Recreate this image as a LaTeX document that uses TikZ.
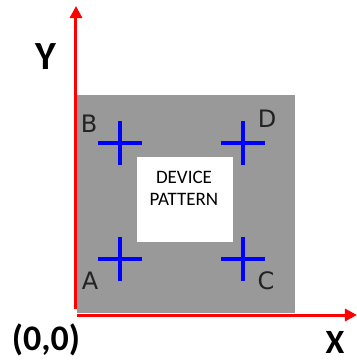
\documentclass[tikz,border=0pt]{standalone}
\usepackage{fontspec}
\setmainfont{Carlito}
\newfontfamily\lblfont{DejaVu Sans}
\usetikzlibrary{arrows.meta}
\definecolor{padgray}{HTML}{999999}
\definecolor{axred}{HTML}{FF0000}
\definecolor{crossblue}{HTML}{0000FF}
\definecolor{lbl}{HTML}{222222}
\tikzset{
  axis/.style={draw=axred, line width=3pt, -{Triangle[length=12pt,width=12pt]}},
  crossline/.style={draw=crossblue, line width=4pt},
  cornerlbl/.style={text=lbl, font=\lblfont\fontsize{24}{24}\selectfont, inner sep=0pt},
  axlbl/.style={font=\bfseries\fontsize{36}{36}\selectfont, inner sep=0pt},
}
\begin{document}
\begin{tikzpicture}[x=1pt,y=-1pt]
\useasboundingbox (0,0) rectangle (357,360);
% gray pad
\fill[padgray] (77,95) rectangle (295,313);
% device pattern box
\node[fill=white, minimum width=96pt, minimum height=85pt, inner sep=0pt] (dp) at (185,199.5) {};
\node[align=center, inner sep=0pt, font=\fontsize{19}{22}\selectfont] (dpt) at (184,188) {DEVICE\\PATTERN};
% axes
\coordinate (ytop) at (76,6);
\coordinate (ybot) at (76,309);
\coordinate (xleft) at (77,315);
\coordinate (xright) at (357,315);
\draw[axis] (ybot) -- (ytop);
\draw[axis] (xleft) -- (xright);
% crosses
\foreach \n/\x/\y in {cB/120/143, cD/243/143, cA/120/259, cC/243/259}{
  \coordinate (\n) at (\x,\y);
  \draw[crossline] ([xshift=-22pt]\n) -- ([xshift=22pt]\n);
  \draw[crossline] ([yshift=-22pt]\n) -- ([yshift=22pt]\n);
}
% labels
\node[cornerlbl] (lB) at (89,124) {B};
\node[cornerlbl] (lD) at (267,119) {D};
\node[cornerlbl] (lA) at (90,281) {A};
\node[cornerlbl] (lC) at (266,281) {C};
\node[axlbl, font=\bfseries\fontsize{40}{40}\selectfont] (ly) at (46,57) {Y};
\node[axlbl, font=\bfseries\fontsize{34}{34}\selectfont] (lx) at (335,342) {X};
\node[axlbl] (lo) at (46,340) {(0,0)};
\end{tikzpicture}
\end{document}
